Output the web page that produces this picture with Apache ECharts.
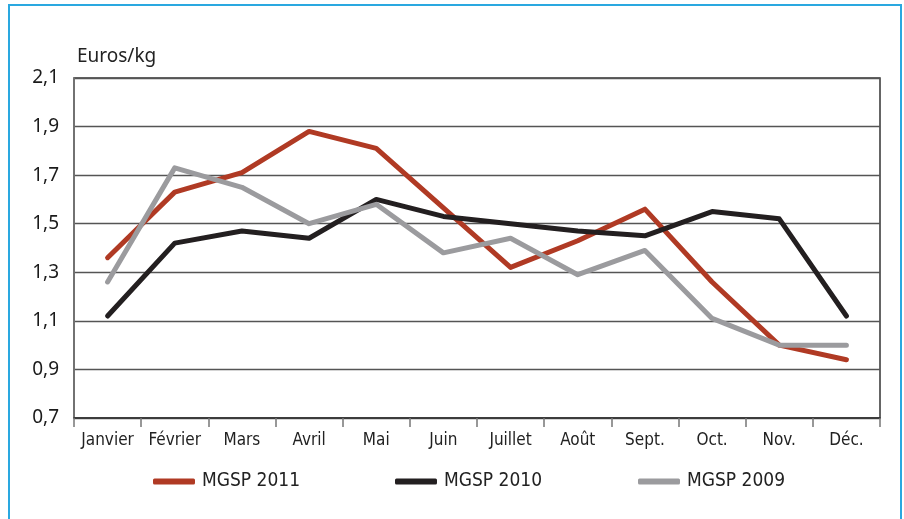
<!DOCTYPE html>
<html><head><meta charset="utf-8">
<script src="https://cdn.jsdelivr.net/npm/echarts@6/dist/echarts.min.js"></script>
<style>
html,body{margin:0;padding:0;background:#fff;}
#frame{position:absolute;left:8px;top:4px;width:894px;height:540px;border:2.5px solid #2aa8e0;box-sizing:border-box;}
#c{position:absolute;left:0;top:0;width:904px;height:519px;}
</style></head>
<body><div id="frame"></div><div id="c"></div>
<script>
const months = ['Janvier','Février','Mars','Avril','Mai','Juin','Juillet','Août','Sept.','Oct.','Nov.','Déc.'];
const mgsp2011 = [1.36,1.63,1.71,1.88,1.81,1.565,1.32,1.43,1.56,1.26,1.00,0.94];
const mgsp2010 = [1.12,1.42,1.47,1.44,1.60,1.53,1.50,1.47,1.45,1.55,1.52,1.12];
const mgsp2009 = [1.26,1.73,1.65,1.50,1.58,1.38,1.44,1.29,1.39,1.11,1.00,1.00];
const yTicks = [0.7,0.9,1.1,1.3,1.5,1.7,1.9,2.1];

const chart = echarts.init(document.getElementById('c'));
const condensed = '"Liberation Sans Narrow","DejaVu Sans Condensed","Roboto Condensed",sans-serif';
function line(name, data, color){
  return {name, type:'line', data, symbol:'none', smooth:false,
    lineStyle:{color, width:5, cap:'round', join:'round'}, itemStyle:{color}};
}
function leg(name, left){
  return {data:[name], left, top:467, icon:'roundRect', itemWidth:42, itemHeight:6,
    itemGap:0, textStyle:{fontFamily:condensed, fontSize:19, color:'#222', padding:[0,0,0,2]}};
}
chart.setOption({
  animation:false,
  title:{text:'Euros/kg', left:72, top:42, textStyle:{fontFamily:'"Noto Sans",sans-serif', fontWeight:'normal', fontSize:19, color:'#222'}},
  grid:{left:74, right:24, top:78, bottom:101, show:true, borderColor:'#333', borderWidth:1.5, backgroundColor:'transparent'},
  legend:[leg('MGSP 2011',148), leg('MGSP 2010',390), leg('MGSP 2009',633)],
  xAxis:{type:'category', data:months, boundaryGap:true,
    axisLine:{lineStyle:{color:'#333', width:1.5}},
    axisTick:{show:true, interval:0, length:9, lineStyle:{color:'#777', width:1.5}},
    axisLabel:{interval:0, margin:14, fontFamily:condensed, fontSize:17, color:'#222'}},
  yAxis:{type:'value', min:0.7, max:2.1, interval:0.2,
    axisLine:{show:true, lineStyle:{color:'#777', width:1.5}},
    axisTick:{show:false},
    splitLine:{lineStyle:{color:'#555', width:1.3}},
    axisLabel:{margin:15, fontFamily:'"Noto Sans",sans-serif', fontSize:19, color:'#1a1a1a',
      formatter:v=>{const t=yTicks.find(x=>Math.abs(x-v)<1e-6); return (t!==undefined?t:v).toFixed(1).replace('.',',');}}},
  series:[line('MGSP 2011',mgsp2011,'#b03a24'), line('MGSP 2010',mgsp2010,'#231f20'), line('MGSP 2009',mgsp2009,'#9b9b9e')]
});
</script></body></html>
